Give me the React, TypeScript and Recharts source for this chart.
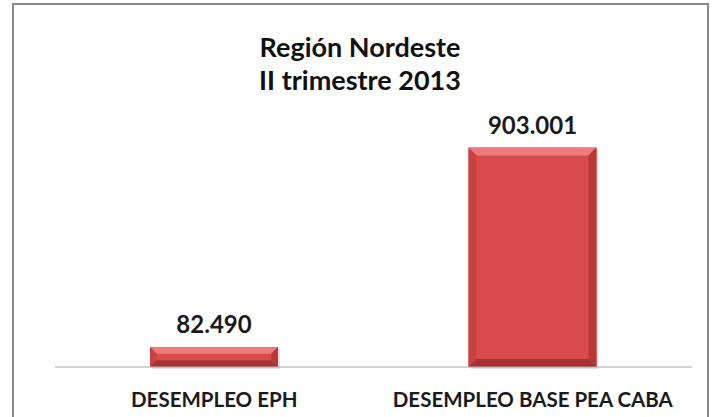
import React from 'react'
import { BarChart, Bar, XAxis, YAxis, LabelList } from 'recharts'

// categories and values
const categories = ['DESEMPLEO EPH', 'DESEMPLEO BASE PEA CABA']
const values = [82490, 903001]
const titleLines = ['Región Nordeste', 'II trimestre 2013']

const data = categories.map((name, i) => ({ name, value: values[i] }))

const fmt = (v: number) => String(v).replace(/\B(?=(\d{3})+(?!\d))/g, '.')

const font = 'Lato, "Open Sans", sans-serif'

// bar with a little bevel like the original
const BevelBar = (props: any) => {
    const { x, y, width, height } = props
    if (!height || height <= 0) return null
    const b = Math.min(8, height / 3)
    return (
        <g>
            <rect x={x + 2} y={y + 2} width={width} height={height} fill="#000" opacity={0.12} />
            <rect x={x} y={y} width={width} height={height} fill="#d94b4b" />
            <polygon points={`${x},${y} ${x + width},${y} ${x + width - b},${y + b} ${x + b},${y + b}`} fill="#f07a7a" />
            <polygon points={`${x},${y} ${x + b},${y + b} ${x + b},${y + height - b} ${x},${y + height}`} fill="#c84242" />
            <polygon points={`${x + width},${y} ${x + width - b},${y + b} ${x + width - b},${y + height - b} ${x + width},${y + height}`} fill="#b83838" />
            <polygon points={`${x},${y + height} ${x + b},${y + height - b} ${x + width - b},${y + height - b} ${x + width},${y + height}`} fill="#a83232" />
        </g>
    )
}

const Tick = (props: any) => {
    const { x, y, payload } = props
    return (
        <text x={x} y={y + 32} textAnchor="middle" fontSize={20.5} fontWeight={700} fill="#1a1a1a" fontFamily={font}>
            {payload.value}
        </text>
    )
}

export default function App() {
    return (
        <div style={{ position: 'fixed', left: 0, top: 0, width: 712, height: 417, background: '#fff', overflow: 'hidden' }}>
            <div style={{ position: 'absolute', left: 12, top: 3, width: 693, height: 430, border: '2px solid #8a8a8a' }} />
            <div style={{ position: 'absolute', left: 0, top: 30, width: 720, textAlign: 'center', fontFamily: font, fontWeight: 700, fontSize: 27, lineHeight: '33px', color: '#111' }}>
                {titleLines.map((t) => (
                    <div key={t}>{t}</div>
                ))}
            </div>
            <div style={{ position: 'absolute', left: 0, top: 0 }}>
                <BarChart width={712} height={417} data={data} margin={{ top: 124, right: 20, bottom: 20, left: 55 }}>
                    <XAxis dataKey="name" axisLine={{ stroke: '#a6a6a6' }} tickLine={false} tick={<Tick />} interval={0} />
                    <YAxis hide domain={[0, 1000000]} />
                    <Bar dataKey="value" barSize={128} shape={<BevelBar />} isAnimationActive={false}>
                        <LabelList
                            dataKey="value"
                            position="top"
                            offset={14}
                            formatter={(v: any) => fmt(Number(v))}
                            style={{ fontSize: 24, fontWeight: 700, fill: '#1a1a1a', fontFamily: font }}
                        />
                    </Bar>
                </BarChart>
            </div>
        </div>
    )
}
